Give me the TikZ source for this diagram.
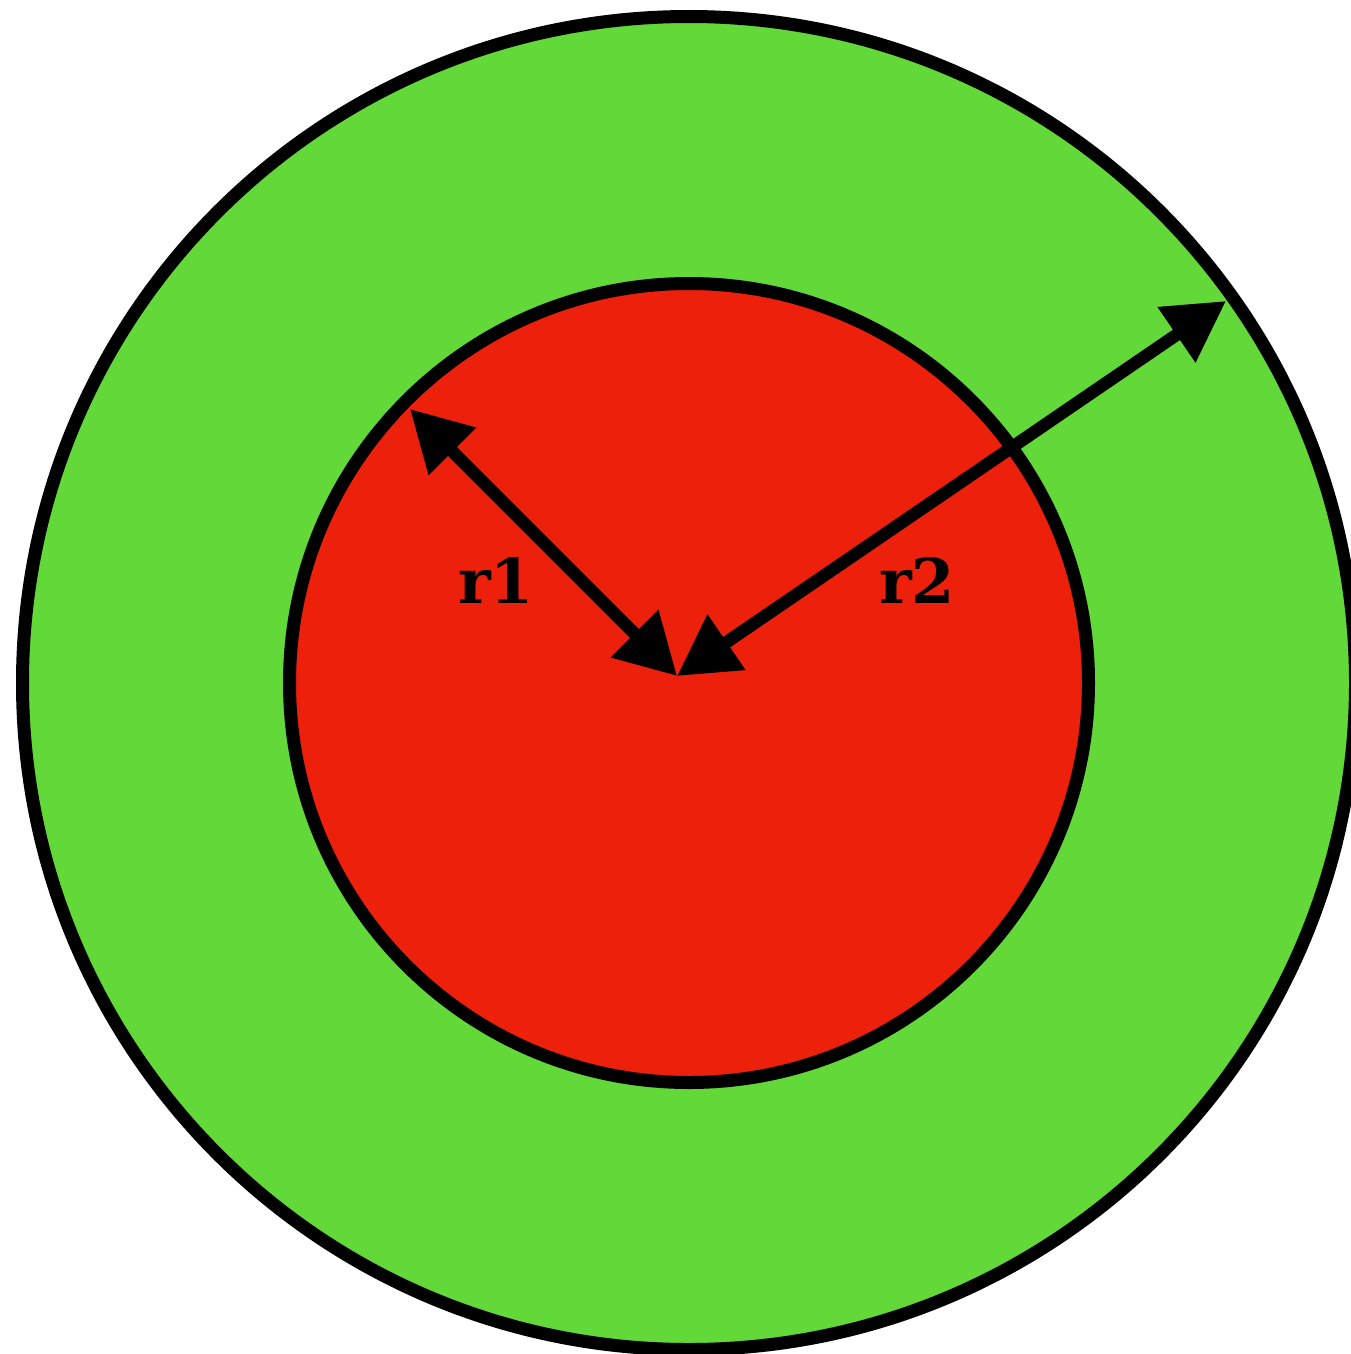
\documentclass[tikz,border=0pt]{standalone}
\usepackage{fontspec}
\setmainfont{DejaVu Serif}
\usetikzlibrary{arrows.meta}
\definecolor{ringgreen}{RGB}{98,217,56}
\definecolor{corered}{RGB}{237,32,12}
\begin{document}
\begin{tikzpicture}[x=1pt,y=-1pt,
  ring/.style={draw=black,line width=13pt},
  radius arrow/.style={line width=12.5pt,{Triangle[length=60pt,width=64pt]}-{Triangle[length=60pt,width=64pt]}},
  lab/.style={inner sep=0pt,font=\fontsize{62}{74}\selectfont\bfseries}]
\useasboundingbox (0,0) rectangle (1351,1354);
\fill[white] (0,0) rectangle (1351,1354);
\draw[ring,fill=ringgreen] (689,683) circle (666.5pt);
\draw[ring,fill=corered] (689,683) circle (399.5pt);
\coordinate (c) at (677,676);
\coordinate (t1) at (410,409);
\coordinate (t2) at (1226,301);
\draw[radius arrow] (c) -- (t1);
\draw[radius arrow] (c) -- (t2);
\node[lab] (r1) at (496,580) {r1};
\node[lab] (r2) at (917,580) {r2};
\end{tikzpicture}
\end{document}
